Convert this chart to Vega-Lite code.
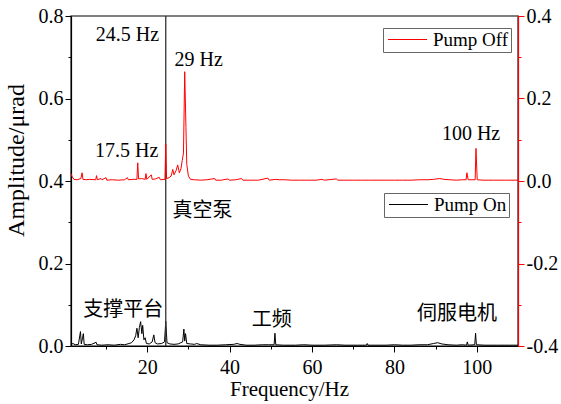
{
  "$schema": "https://vega.github.io/schema/vega-lite/v6.json",
  "width": 447,
  "height": 330,
  "autosize": {"type": "none"},
  "padding": {"left": 71, "top": 16, "right": 43, "bottom": 58},
  "background": "white",
  "config": {
    "font": "Liberation Serif",
    "view": {"stroke": "#555", "strokeWidth": 1.6},
    "axis": {"grid": false, "labelFont": "Liberation Serif", "titleFont": "Liberation Serif", "titleFontWeight": "normal", "labelFontSize": 20, "labelColor": "#000", "domainColor": "#000", "tickColor": "#000", "labelFlush": false, "labelOverlap": false, "domainWidth": 1.2, "tickWidth": 1},
    "legend": {"labelFont": "Liberation Serif", "labelFontSize": 19, "labelColor": "#000", "symbolType": "M-1,0H5", "symbolSize": 169, "symbolStrokeWidth": 1, "symbolFillColor": "transparent", "strokeColor": "#666", "fillColor": "#fff", "padding": 2, "labelOffset": 29, "orient": "none"}
  },
  "datasets": {
    "off": [
      {"f": 1.5, "v": 0.018, "s": "Pump Off"},
      {"f": 1.8, "v": 0.01, "s": "Pump Off"},
      {"f": 2.2, "v": 0.004, "s": "Pump Off"},
      {"f": 3.0, "v": 0.003, "s": "Pump Off"},
      {"f": 3.9, "v": 0.006, "s": "Pump Off"},
      {"f": 4.2, "v": 0.02, "s": "Pump Off"},
      {"f": 4.4, "v": 0.004, "s": "Pump Off"},
      {"f": 5.2, "v": 0.003, "s": "Pump Off"},
      {"f": 6.0, "v": 0.004, "s": "Pump Off"},
      {"f": 7.5, "v": 0.003, "s": "Pump Off"},
      {"f": 7.7, "v": 0.013, "s": "Pump Off"},
      {"f": 7.9, "v": 0.003, "s": "Pump Off"},
      {"f": 8.8, "v": 0.006, "s": "Pump Off"},
      {"f": 9.0, "v": 0.003, "s": "Pump Off"},
      {"f": 10.0, "v": 0.008, "s": "Pump Off"},
      {"f": 10.2, "v": 0.002, "s": "Pump Off"},
      {"f": 11.5, "v": 0.003, "s": "Pump Off"},
      {"f": 13.0, "v": 0.002, "s": "Pump Off"},
      {"f": 14.5, "v": 0.003, "s": "Pump Off"},
      {"f": 15.2, "v": 0.008, "s": "Pump Off"},
      {"f": 15.4, "v": 0.003, "s": "Pump Off"},
      {"f": 16.5, "v": 0.004, "s": "Pump Off"},
      {"f": 17.5, "v": 0.004, "s": "Pump Off"},
      {"f": 17.7, "v": 0.044, "s": "Pump Off"},
      {"f": 17.9, "v": 0.005, "s": "Pump Off"},
      {"f": 18.6, "v": 0.006, "s": "Pump Off"},
      {"f": 19.5, "v": 0.004, "s": "Pump Off"},
      {"f": 19.7, "v": 0.018, "s": "Pump Off"},
      {"f": 19.9, "v": 0.004, "s": "Pump Off"},
      {"f": 21.0, "v": 0.015, "s": "Pump Off"},
      {"f": 21.2, "v": 0.004, "s": "Pump Off"},
      {"f": 22.0, "v": 0.005, "s": "Pump Off"},
      {"f": 22.9, "v": 0.009, "s": "Pump Off"},
      {"f": 23.2, "v": 0.003, "s": "Pump Off"},
      {"f": 24.3, "v": 0.004, "s": "Pump Off"},
      {"f": 24.5, "v": 0.09, "s": "Pump Off"},
      {"f": 24.7, "v": 0.006, "s": "Pump Off"},
      {"f": 25.3, "v": 0.008, "s": "Pump Off"},
      {"f": 25.8, "v": 0.012, "s": "Pump Off"},
      {"f": 26.2, "v": 0.028, "s": "Pump Off"},
      {"f": 26.5, "v": 0.015, "s": "Pump Off"},
      {"f": 27.0, "v": 0.025, "s": "Pump Off"},
      {"f": 27.4, "v": 0.039, "s": "Pump Off"},
      {"f": 27.8, "v": 0.02, "s": "Pump Off"},
      {"f": 28.2, "v": 0.03, "s": "Pump Off"},
      {"f": 28.5, "v": 0.05, "s": "Pump Off"},
      {"f": 28.8, "v": 0.068, "s": "Pump Off"},
      {"f": 29.1, "v": 0.265, "s": "Pump Off"},
      {"f": 29.4, "v": 0.13, "s": "Pump Off"},
      {"f": 29.6, "v": 0.04, "s": "Pump Off"},
      {"f": 30.0, "v": 0.012, "s": "Pump Off"},
      {"f": 30.5, "v": 0.004, "s": "Pump Off"},
      {"f": 31.5, "v": 0.003, "s": "Pump Off"},
      {"f": 33.0, "v": 0.002, "s": "Pump Off"},
      {"f": 34.5, "v": 0.003, "s": "Pump Off"},
      {"f": 36.4, "v": 0.006, "s": "Pump Off"},
      {"f": 36.6, "v": 0.002, "s": "Pump Off"},
      {"f": 38.0, "v": 0.002, "s": "Pump Off"},
      {"f": 39.6, "v": 0.005, "s": "Pump Off"},
      {"f": 40.0, "v": 0.002, "s": "Pump Off"},
      {"f": 41.5, "v": 0.003, "s": "Pump Off"},
      {"f": 42.9, "v": 0.006, "s": "Pump Off"},
      {"f": 43.2, "v": 0.002, "s": "Pump Off"},
      {"f": 45.0, "v": 0.002, "s": "Pump Off"},
      {"f": 47.0, "v": 0.002, "s": "Pump Off"},
      {"f": 49.3, "v": 0.007, "s": "Pump Off"},
      {"f": 49.6, "v": 0.002, "s": "Pump Off"},
      {"f": 51.2, "v": 0.004, "s": "Pump Off"},
      {"f": 52.0, "v": 0.003, "s": "Pump Off"},
      {"f": 53.4, "v": 0.003, "s": "Pump Off"},
      {"f": 55.0, "v": 0.002, "s": "Pump Off"},
      {"f": 57.0, "v": 0.002, "s": "Pump Off"},
      {"f": 59.0, "v": 0.002, "s": "Pump Off"},
      {"f": 61.0, "v": 0.002, "s": "Pump Off"},
      {"f": 62.4, "v": 0.004, "s": "Pump Off"},
      {"f": 63.0, "v": 0.002, "s": "Pump Off"},
      {"f": 65.9, "v": 0.005, "s": "Pump Off"},
      {"f": 66.3, "v": 0.002, "s": "Pump Off"},
      {"f": 68.0, "v": 0.002, "s": "Pump Off"},
      {"f": 70.0, "v": 0.002, "s": "Pump Off"},
      {"f": 72.0, "v": 0.002, "s": "Pump Off"},
      {"f": 74.0, "v": 0.002, "s": "Pump Off"},
      {"f": 76.0, "v": 0.002, "s": "Pump Off"},
      {"f": 78.0, "v": 0.002, "s": "Pump Off"},
      {"f": 80.0, "v": 0.002, "s": "Pump Off"},
      {"f": 82.0, "v": 0.002, "s": "Pump Off"},
      {"f": 84.0, "v": 0.002, "s": "Pump Off"},
      {"f": 86.0, "v": 0.003, "s": "Pump Off"},
      {"f": 88.0, "v": 0.003, "s": "Pump Off"},
      {"f": 89.5, "v": 0.004, "s": "Pump Off"},
      {"f": 91.0, "v": 0.006, "s": "Pump Off"},
      {"f": 92.0, "v": 0.004, "s": "Pump Off"},
      {"f": 93.5, "v": 0.003, "s": "Pump Off"},
      {"f": 95.0, "v": 0.002, "s": "Pump Off"},
      {"f": 96.5, "v": 0.003, "s": "Pump Off"},
      {"f": 97.4, "v": 0.003, "s": "Pump Off"},
      {"f": 97.6, "v": 0.02, "s": "Pump Off"},
      {"f": 97.9, "v": 0.003, "s": "Pump Off"},
      {"f": 99.6, "v": 0.003, "s": "Pump Off"},
      {"f": 99.8, "v": 0.079, "s": "Pump Off"},
      {"f": 100.1, "v": 0.003, "s": "Pump Off"},
      {"f": 101.5, "v": 0.002, "s": "Pump Off"},
      {"f": 104.0, "v": 0.002, "s": "Pump Off"},
      {"f": 107.0, "v": 0.002, "s": "Pump Off"},
      {"f": 110.0, "v": 0.002, "s": "Pump Off"}
    ],
    "on": [
      {"f": 1.5, "v": 0.004, "s": "Pump On"},
      {"f": 2.0, "v": 0.006, "s": "Pump On"},
      {"f": 2.5, "v": 0.003, "s": "Pump On"},
      {"f": 3.3, "v": 0.004, "s": "Pump On"},
      {"f": 3.8, "v": 0.035, "s": "Pump On"},
      {"f": 4.0, "v": 0.005, "s": "Pump On"},
      {"f": 4.3, "v": 0.02, "s": "Pump On"},
      {"f": 4.5, "v": 0.03, "s": "Pump On"},
      {"f": 4.7, "v": 0.004, "s": "Pump On"},
      {"f": 5.5, "v": 0.003, "s": "Pump On"},
      {"f": 6.5, "v": 0.004, "s": "Pump On"},
      {"f": 7.6, "v": 0.009, "s": "Pump On"},
      {"f": 7.8, "v": 0.003, "s": "Pump On"},
      {"f": 9.0, "v": 0.002, "s": "Pump On"},
      {"f": 10.5, "v": 0.003, "s": "Pump On"},
      {"f": 12.0, "v": 0.002, "s": "Pump On"},
      {"f": 13.5, "v": 0.004, "s": "Pump On"},
      {"f": 14.5, "v": 0.003, "s": "Pump On"},
      {"f": 15.6, "v": 0.006, "s": "Pump On"},
      {"f": 16.2, "v": 0.008, "s": "Pump On"},
      {"f": 16.8, "v": 0.015, "s": "Pump On"},
      {"f": 17.2, "v": 0.025, "s": "Pump On"},
      {"f": 17.5, "v": 0.043, "s": "Pump On"},
      {"f": 17.8, "v": 0.02, "s": "Pump On"},
      {"f": 18.1, "v": 0.045, "s": "Pump On"},
      {"f": 18.4, "v": 0.059, "s": "Pump On"},
      {"f": 18.7, "v": 0.03, "s": "Pump On"},
      {"f": 18.9, "v": 0.05, "s": "Pump On"},
      {"f": 19.2, "v": 0.015, "s": "Pump On"},
      {"f": 19.5, "v": 0.02, "s": "Pump On"},
      {"f": 19.8, "v": 0.006, "s": "Pump On"},
      {"f": 20.5, "v": 0.005, "s": "Pump On"},
      {"f": 21.2, "v": 0.01, "s": "Pump On"},
      {"f": 21.6, "v": 0.027, "s": "Pump On"},
      {"f": 21.9, "v": 0.008, "s": "Pump On"},
      {"f": 22.5, "v": 0.005, "s": "Pump On"},
      {"f": 23.5, "v": 0.006, "s": "Pump On"},
      {"f": 24.2, "v": 0.01, "s": "Pump On"},
      {"f": 24.5, "v": 0.06, "s": "Pump On"},
      {"f": 24.8, "v": 0.008, "s": "Pump On"},
      {"f": 25.5, "v": 0.005, "s": "Pump On"},
      {"f": 26.5, "v": 0.004, "s": "Pump On"},
      {"f": 27.5, "v": 0.005, "s": "Pump On"},
      {"f": 28.6, "v": 0.01, "s": "Pump On"},
      {"f": 28.9, "v": 0.041, "s": "Pump On"},
      {"f": 29.1, "v": 0.012, "s": "Pump On"},
      {"f": 29.3, "v": 0.03, "s": "Pump On"},
      {"f": 29.6, "v": 0.006, "s": "Pump On"},
      {"f": 30.5, "v": 0.005, "s": "Pump On"},
      {"f": 31.5, "v": 0.004, "s": "Pump On"},
      {"f": 32.0, "v": 0.006, "s": "Pump On"},
      {"f": 33.0, "v": 0.003, "s": "Pump On"},
      {"f": 35.0, "v": 0.002, "s": "Pump On"},
      {"f": 37.0, "v": 0.002, "s": "Pump On"},
      {"f": 39.0, "v": 0.003, "s": "Pump On"},
      {"f": 41.0, "v": 0.004, "s": "Pump On"},
      {"f": 41.8, "v": 0.006, "s": "Pump On"},
      {"f": 42.5, "v": 0.004, "s": "Pump On"},
      {"f": 44.0, "v": 0.002, "s": "Pump On"},
      {"f": 46.0, "v": 0.002, "s": "Pump On"},
      {"f": 48.0, "v": 0.003, "s": "Pump On"},
      {"f": 49.5, "v": 0.003, "s": "Pump On"},
      {"f": 50.8, "v": 0.003, "s": "Pump On"},
      {"f": 51.0, "v": 0.031, "s": "Pump On"},
      {"f": 51.2, "v": 0.003, "s": "Pump On"},
      {"f": 53.0, "v": 0.002, "s": "Pump On"},
      {"f": 56.0, "v": 0.002, "s": "Pump On"},
      {"f": 58.0, "v": 0.003, "s": "Pump On"},
      {"f": 60.0, "v": 0.002, "s": "Pump On"},
      {"f": 63.0, "v": 0.002, "s": "Pump On"},
      {"f": 66.0, "v": 0.003, "s": "Pump On"},
      {"f": 68.0, "v": 0.002, "s": "Pump On"},
      {"f": 71.0, "v": 0.002, "s": "Pump On"},
      {"f": 73.2, "v": 0.002, "s": "Pump On"},
      {"f": 73.4, "v": 0.006, "s": "Pump On"},
      {"f": 73.6, "v": 0.002, "s": "Pump On"},
      {"f": 76.0, "v": 0.002, "s": "Pump On"},
      {"f": 78.0, "v": 0.002, "s": "Pump On"},
      {"f": 80.0, "v": 0.003, "s": "Pump On"},
      {"f": 82.0, "v": 0.002, "s": "Pump On"},
      {"f": 84.0, "v": 0.002, "s": "Pump On"},
      {"f": 86.0, "v": 0.003, "s": "Pump On"},
      {"f": 88.0, "v": 0.003, "s": "Pump On"},
      {"f": 89.5, "v": 0.006, "s": "Pump On"},
      {"f": 90.5, "v": 0.008, "s": "Pump On"},
      {"f": 91.5, "v": 0.005, "s": "Pump On"},
      {"f": 93.0, "v": 0.003, "s": "Pump On"},
      {"f": 95.0, "v": 0.002, "s": "Pump On"},
      {"f": 96.5, "v": 0.003, "s": "Pump On"},
      {"f": 97.5, "v": 0.002, "s": "Pump On"},
      {"f": 97.7, "v": 0.01, "s": "Pump On"},
      {"f": 97.9, "v": 0.002, "s": "Pump On"},
      {"f": 99.5, "v": 0.003, "s": "Pump On"},
      {"f": 99.7, "v": 0.031, "s": "Pump On"},
      {"f": 99.9, "v": 0.003, "s": "Pump On"},
      {"f": 102.0, "v": 0.002, "s": "Pump On"},
      {"f": 105.0, "v": 0.002, "s": "Pump On"},
      {"f": 108.0, "v": 0.002, "s": "Pump On"},
      {"f": 110.0, "v": 0.002, "s": "Pump On"}
    ],
    "marker": [{"f": 24.5}],
    "labels": [
      {"label": "24.5 Hz", "f": 15.2, "v": 0.755},
      {"label": "29 Hz", "f": 32.5, "v": 0.693},
      {"label": "17.5 Hz", "f": 15.0, "v": 0.473},
      {"label": "100 Hz", "f": 98.6, "v": 0.514},
      {"label": "真空泵", "f": 33.4, "v": 0.327},
      {"label": "支撑平台", "f": 14.2, "v": 0.087},
      {"label": "工频", "f": 50.2, "v": 0.063},
      {"label": "伺服电机", "f": 95.2, "v": 0.078}
    ]
  },
  "encoding": {
    "x": {
      "field": "f",
      "type": "quantitative",
      "scale": {"domain": [1.5, 110], "nice": false, "zero": false},
      "axis": {
        "title": "Frequency/Hz",
        "titleFontSize": 21,
        "titleBaseline": "alphabetic",
        "titleY": 49,
        "titleX": 218,
        "values": [10, 20, 30, 40, 50, 60, 70, 80, 90, 100],
        "labelExpr": "datum.value % 20 === 0 ? format(datum.value, 'd') : ''",
        "tickSize": {"condition": {"test": "datum.value % 20 === 0", "value": 6}, "value": 3},
        "labelPadding": 5
      }
    }
  },
  "layer": [
    {
      "data": {"name": "on"},
      "mark": {"type": "line", "strokeWidth": 1, "clip": true},
      "encoding": {
        "y": {
          "field": "v",
          "type": "quantitative",
          "scale": {"domain": [0, 0.8], "nice": false, "zero": false},
          "axis": {
            "orient": "left",
            "title": "Amplitude/μrad",
            "titleFontSize": 24,
            "titleAngle": -90,
            "titleAlign": "center",
            "titleBaseline": "middle",
            "titleX": -55,
            "titleY": 144,
            "values": [0, 0.1, 0.2, 0.3, 0.4, 0.5, 0.6, 0.7, 0.8],
            "labelExpr": "round(datum.value * 10) % 2 === 0 ? format(datum.value, '.1f') : ''",
            "tickSize": {"condition": {"test": "round(datum.value * 10) % 2 === 0", "value": 6}, "value": 3},
            "labelPadding": 2
          }
        },
        "color": {
          "field": "s",
          "type": "nominal",
          "scale": {"domain": ["Pump On"], "range": ["#000000"]},
          "legend": {"title": null, "orient": "none", "legendX": 313, "legendY": 177}
        }
      }
    },
    {
      "data": {"name": "marker"},
      "mark": {"type": "rule", "color": "#333", "strokeWidth": 1.3},
      "encoding": {}
    },
    {
      "data": {"name": "off"},
      "mark": {"type": "line", "strokeWidth": 1, "clip": true},
      "encoding": {
        "y": {
          "field": "v",
          "type": "quantitative",
          "scale": {"domain": [-0.4, 0.4], "nice": false, "zero": false},
          "axis": {
            "orient": "right",
            "title": null,
            "zindex": 1,
            "domainColor": "#ff0000",
            "tickColor": "#ff0000",
            "values": [-0.4, -0.3, -0.2, -0.1, 0, 0.1, 0.2, 0.3, 0.4],
            "labelExpr": "abs(round(datum.value * 10)) % 2 === 0 ? (datum.value < -0.001 ? '-' : '') + format(abs(datum.value), '.1f') : ''",
            "tickSize": {"condition": {"test": "abs(round(datum.value * 10)) % 2 === 0", "value": 6}, "value": 3},
            "labelPadding": 2
          }
        },
        "color": {
          "field": "s",
          "type": "nominal",
          "scale": {"domain": ["Pump Off"], "range": ["#ff0000"]},
          "legend": {"title": null, "orient": "none", "legendX": 312, "legendY": 12}
        }
      }
    },
    {
      "data": {"name": "labels"},
      "mark": {"type": "text", "font": "Liberation Serif, Noto Sans CJK SC", "fontSize": 20, "color": "#000", "align": "center", "baseline": "middle"},
      "encoding": {
        "y": {"field": "v", "type": "quantitative", "scale": {"domain": [0, 0.8], "nice": false, "zero": false}, "axis": null},
        "text": {"field": "label", "type": "nominal"}
      }
    }
  ],
  "resolve": {"scale": {"y": "independent", "color": "independent"}}
}
